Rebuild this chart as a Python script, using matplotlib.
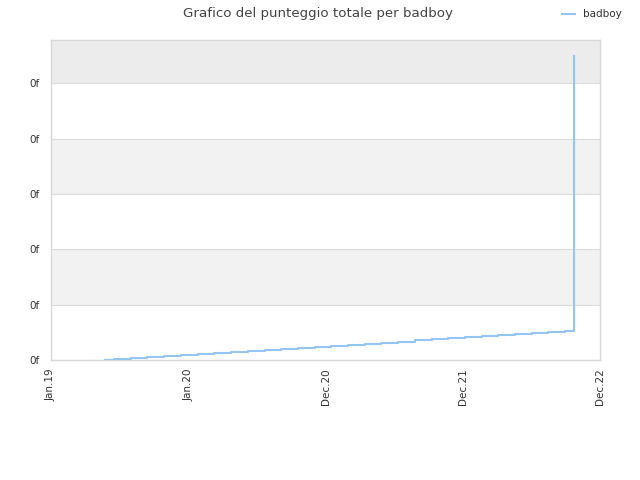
import matplotlib
matplotlib.use("Agg")
import matplotlib.pyplot as plt
import matplotlib.dates as mdates
import pandas as pd

# punteggio totale di badboy (valori letti a occhio, asse y in unita' della griglia)
date = ["2019-05-25", "2019-06-18", "2019-08-01", "2019-09-14", "2019-10-29",
        "2019-12-12", "2020-01-26", "2020-03-10", "2020-04-24", "2020-06-07",
        "2020-07-22", "2020-09-04", "2020-10-18", "2020-12-02", "2021-01-15",
        "2021-03-01", "2021-04-14", "2021-05-28", "2021-07-12", "2021-08-25",
        "2021-10-09", "2021-11-22", "2022-01-06", "2022-02-19", "2022-04-05",
        "2022-05-19", "2022-07-02", "2022-08-16", "2022-09-29", "2022-10-23",
        "2022-10-23"]
punteggio = [0.000, 0.019, 0.037, 0.056, 0.074, 0.093, 0.111, 0.130, 0.149, 0.167,
             0.186, 0.204, 0.223, 0.241, 0.260, 0.279, 0.297, 0.316, 0.334, 0.353,
             0.371, 0.390, 0.409, 0.427, 0.446, 0.464, 0.483, 0.501, 0.520, 2.51,
             5.50]

tick_date = ["2019-01-01", "2020-01-01", "2020-12-31", "2021-12-31", "2022-12-31"]
y_ticks = [0, 1, 2, 3, 4, 5]
y_labels = ["0f"] * 6

df = pd.DataFrame({"data": pd.to_datetime(date), "punteggio": punteggio})
ticks = pd.to_datetime(tick_date)

fig = plt.figure(figsize=(6.4, 4.8), dpi=100)
ax = fig.add_axes([51 / 640, 1 - 360 / 480, 549 / 640, 320 / 480])

ymax = 5.78
# bande alternate di sfondo
ax.axhspan(1, 2, color="#f2f2f2", zorder=0, lw=0)
ax.axhspan(3, 4, color="#f2f2f2", zorder=0, lw=0)
ax.axhspan(5, ymax, color="#ececec", zorder=0, lw=0)
for y in y_ticks[1:]:
    ax.axhline(y, color="#dcdcdc", lw=0.8, zorder=1)

ax.plot(df["data"], df["punteggio"], drawstyle="steps-post",
        color="#94c5f5", lw=1.5, label="badboy", zorder=3)

ax.set_xlim(ticks[0], ticks[-1])
ax.set_ylim(0, ymax)
ax.set_xticks(ticks)
ax.xaxis.set_major_formatter(mdates.DateFormatter("%b.%y"))
ax.set_yticks(y_ticks)
ax.set_yticklabels(y_labels)
ax.tick_params(axis="x", rotation=90, labelsize=7.5, colors="#333333", length=0, pad=6)
ax.tick_params(axis="y", labelsize=7.5, colors="#333333", length=0, pad=8.5)
for s in ax.spines.values():
    s.set_color("#d8d8d8")
    s.set_linewidth(1)

fig.suptitle("Grafico del punteggio totale per badboy", x=0.497, y=0.985,
             fontsize=9.6, color="#444444")
fig.legend(loc="upper right", bbox_to_anchor=(0.986, 1.0), frameon=False,
           fontsize=7.5, handlelength=1.2, labelcolor="#333333")

fig.savefig("out.png", dpi=100, facecolor="white")
